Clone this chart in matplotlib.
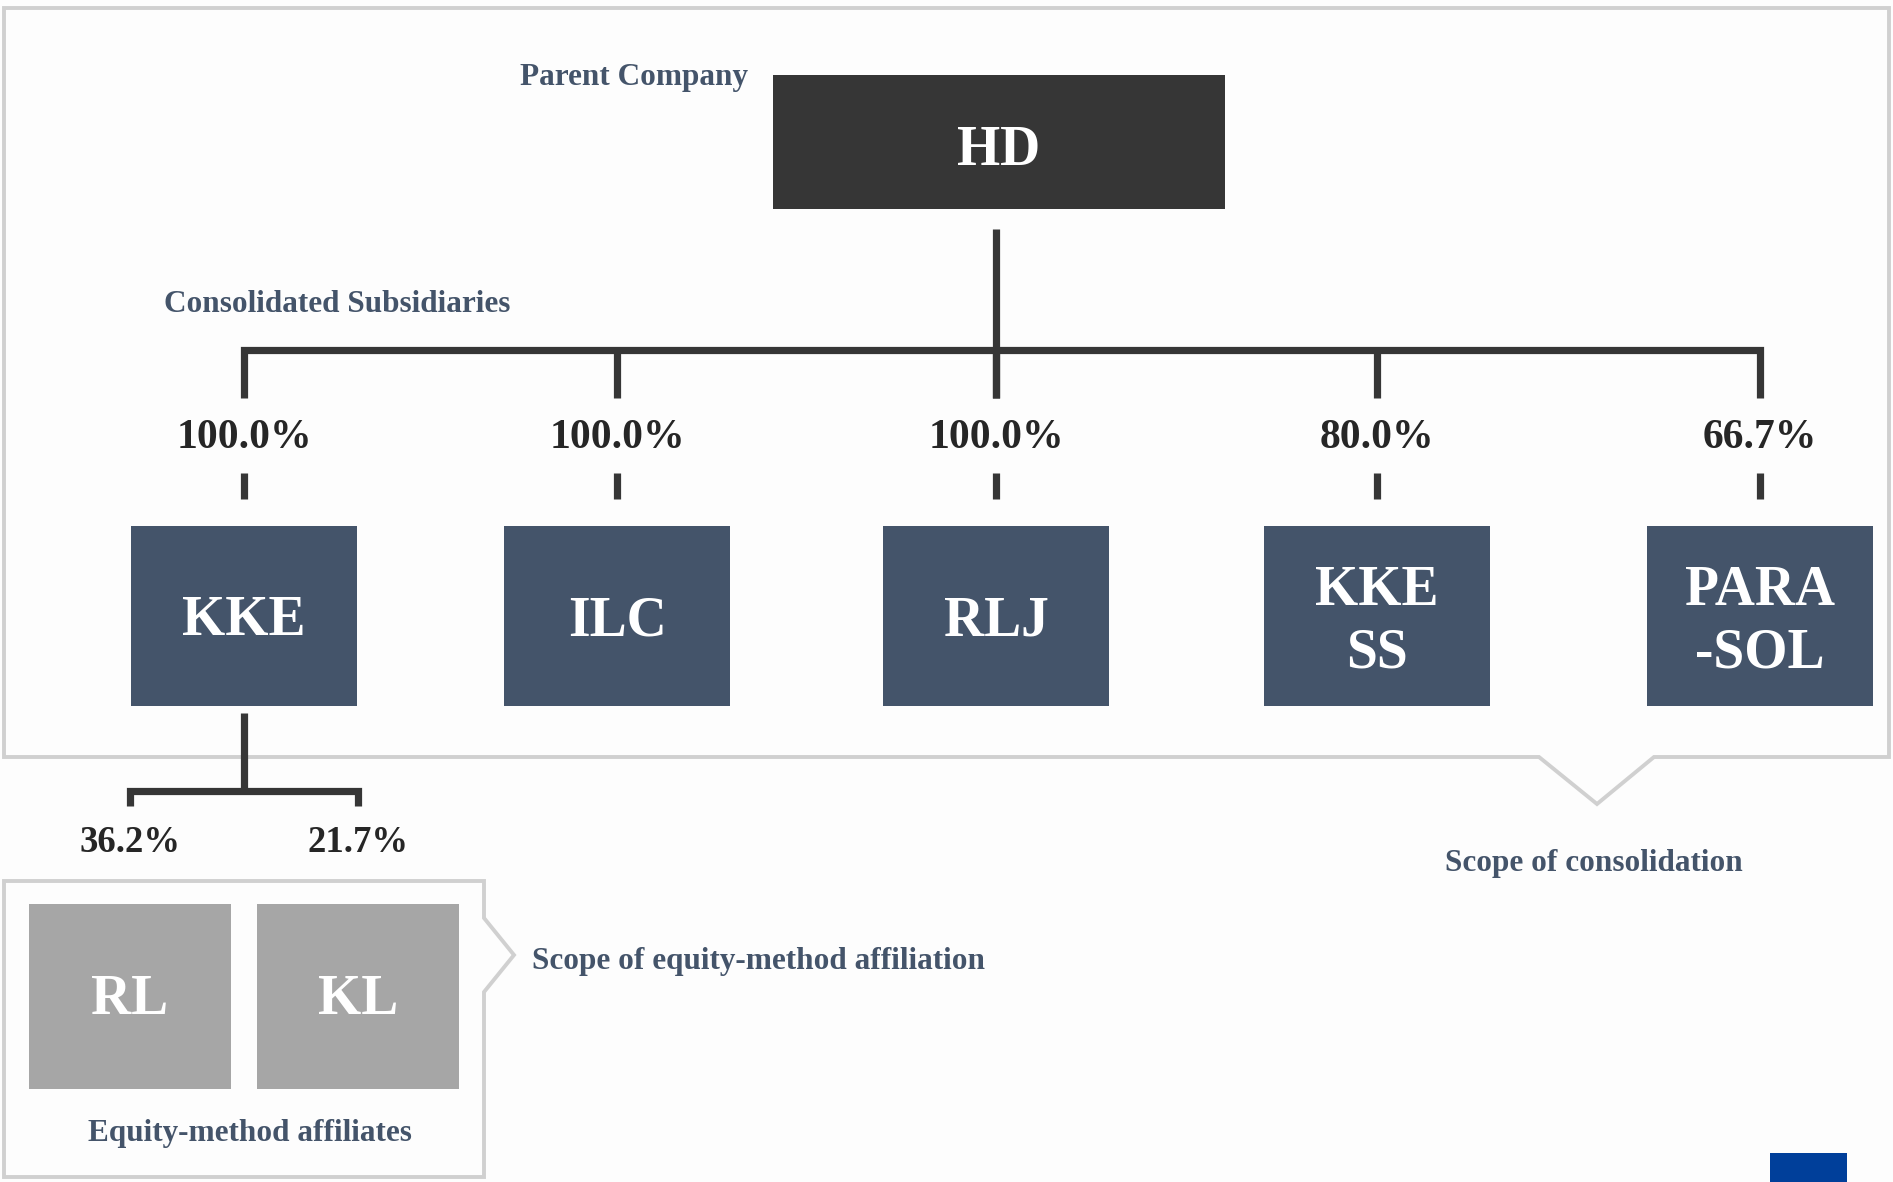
import matplotlib
matplotlib.use("Agg")
import matplotlib.pyplot as plt
from matplotlib.patches import Rectangle, Polygon

plt.rcParams['font.family'] = ['Liberation Serif', 'DejaVu Serif']

# ---- data ----
parent = "HD"
subsidiaries = ["KKE", "ILC", "RLJ", "KKE\nSS", "PARA\n-SOL"]
sub_shares = ["100.0%", "100.0%", "100.0%", "80.0%", "66.7%"]
affiliates = ["RL", "KL"]
aff_shares = ["36.2%", "21.7%"]

label_parent = "Parent Company"
label_subs = "Consolidated Subsidiaries"
label_aff = "Equity-method affiliates"
label_scope_cons = "Scope of consolidation"
label_scope_eq = "Scope of equity-method affiliation"

# ---- style ----
W, H = 1893, 1182
BG = "#FDFDFD"
DARK = "#363636"
SLATE = "#44546A"
GREY_BOX = "#A6A6A6"
FRAME = "#D0D0D0"
LW = 5.2

fig = plt.figure(figsize=(W / 100, H / 100), dpi=100, facecolor=BG)
ax = fig.add_axes([0, 0, 1, 1])
ax.set_xlim(0, W)
ax.set_ylim(H, 0)
ax.axis("off")
ax.set_facecolor(BG)

# frames (callouts)
cons_frame = [(4, 8), (1889, 8), (1889, 757), (1654, 757), (1597, 804),
              (1539, 757), (4, 757)]
ax.add_patch(Polygon(cons_frame, closed=True, fill=False, edgecolor=FRAME,
                     lw=2.8, joinstyle="miter", zorder=1))
eq_frame = [(4, 881), (484, 881), (484, 918), (514, 955), (484, 992),
            (484, 1177), (4, 1177)]
ax.add_patch(Polygon(eq_frame, closed=True, fill=False, edgecolor=FRAME,
                     lw=2.8, joinstyle="miter", zorder=1))

# parent box
ax.add_patch(Rectangle((773, 75), 452, 134, facecolor=DARK, edgecolor="none", zorder=2))
ax.text(999, 151, parent, color="white", fontsize=40, fontweight="bold",
        ha="center", va="center", zorder=3)
ax.text(748, 78, label_parent, color=SLATE, fontsize=22.5, fontweight="bold",
        ha="right", va="center")
ax.text(164, 304, label_subs, color=SLATE, fontsize=22.5, fontweight="bold",
        ha="left", va="center")

# subsidiaries
sub_x = [244, 617, 996, 1377, 1760]
bar_y = 350
# trunk from parent
ax.plot([996, 996], [229, 398], color=DARK, lw=LW, solid_capstyle="butt", zorder=2)
# horizontal bar with end ticks
ax.plot([sub_x[0], sub_x[0], sub_x[-1], sub_x[-1]], [398, bar_y, bar_y, 398],
        color=DARK, lw=LW, solid_joinstyle="miter", solid_capstyle="butt", zorder=2)
for x in sub_x[1:-1]:
    ax.plot([x, x], [bar_y, 398], color=DARK, lw=LW, solid_capstyle="butt", zorder=2)

bw, bh = 226, 180
for x, name, share in zip(sub_x, subsidiaries, sub_shares):
    ax.text(x, 438, share, color="#262626", fontsize=30, fontweight="bold",
            ha="center", va="center")
    ax.plot([x, x], [473, 499], color=DARK, lw=LW, solid_capstyle="butt", zorder=2)
    ax.add_patch(Rectangle((x - bw / 2, 526), bw, bh, facecolor=SLATE,
                           edgecolor="none", zorder=2))
    lines = name.split("\n")
    if len(lines) == 1:
        ax.text(x, 621, name, color="white", fontsize=40, fontweight="bold",
                ha="center", va="center", zorder=3)
    else:
        for k, ln in enumerate(lines):
            ax.text(x, 591 + 62 * k, ln, color="white", fontsize=40,
                    fontweight="bold", ha="center", va="center", zorder=3)

# affiliates branch from KKE
ax.plot([244, 244], [713, 791], color=DARK, lw=LW, solid_capstyle="butt", zorder=2)
aff_x = [130, 358]
ax.plot([aff_x[0], aff_x[0], aff_x[1], aff_x[1]], [806, 791, 791, 806],
        color=DARK, lw=LW, solid_joinstyle="miter", solid_capstyle="butt", zorder=2)

abw, abh = 202, 185
for x, name, share in zip(aff_x, affiliates, aff_shares):
    ax.text(x, 843, share, color="#262626", fontsize=26.5, fontweight="bold",
            ha="center", va="center")
    ax.add_patch(Rectangle((x - abw / 2, 904), abw, abh, facecolor=GREY_BOX,
                           edgecolor="none", zorder=2))
    ax.text(x, 1000, name, color="white", fontsize=40, fontweight="bold",
            ha="center", va="center", zorder=3)

ax.text(250, 1133, label_aff, color=SLATE, fontsize=22.5, fontweight="bold",
        ha="center", va="center")
ax.text(532, 961, label_scope_eq, color=SLATE, fontsize=22.5, fontweight="bold",
        ha="left", va="center")
ax.text(1594, 864, label_scope_cons, color=SLATE, fontsize=22.5, fontweight="bold",
        ha="center", va="center")

# small blue mark in bottom-right corner
ax.add_patch(Rectangle((1770, 1153), 77, 40, facecolor="#003F9A",
                       edgecolor="none", zorder=2, clip_on=True))

fig.savefig("out.png", dpi=100, facecolor=BG)
